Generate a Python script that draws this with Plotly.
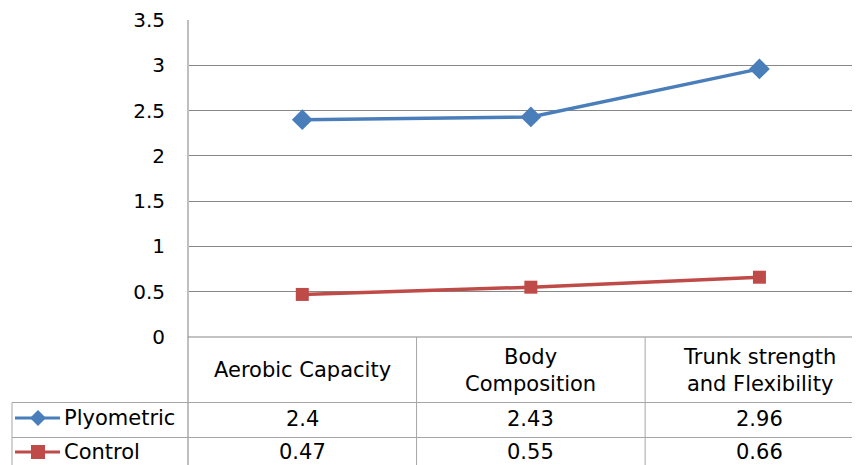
import plotly.graph_objects as go

categories = ["Aerobic Capacity", "Body Composition", "Trunk strength and Flexibility"]
header_labels = ["Aerobic Capacity", "Body<br>Composition", "Trunk strength<br>and Flexibility"]
plyometric = [2.4, 2.43, 2.96]
control = [0.47, 0.55, 0.66]
series_names = ["Plyometric", "Control"]
y_ticks = [0, 0.5, 1, 1.5, 2, 2.5, 3, 3.5]
y_tick_labels = ["0", "0.5", "1", "1.5", "2", "2.5", "3", "3.5"]

# the page body adds an 8px margin, so the figure is shrunk and offset by it
OFF = 8
W, H = 860 - OFF, 465 - OFF
PLOT_L, PLOT_T, PLOT_B = 188, 20, 337  # target positions in the screenshot
ML, MR, MT = PLOT_L - OFF, 0, PLOT_T - OFF
MB = H - (PLOT_B - OFF)
PH = H - MT - MB
PW = W - ML - MR

def py(y):
    # screenshot pixel row -> paper y
    return (PLOT_B - y) / PH

def px(x):
    # screenshot pixel column -> paper x
    return (x - PLOT_L) / PW

BOTTOM = 465

BLUE = "#4A7EBB"
RED = "#BE4B48"
FONT = "DejaVu Sans"
GRID = "#878787"
TABLE = "#A6A6A6"

fig = go.Figure()
fig.add_trace(go.Scatter(
    x=categories, y=plyometric, name=series_names[0], mode="lines+markers",
    line=dict(color=BLUE, width=3.5), marker=dict(symbol="diamond", size=16, color=BLUE),
    showlegend=False,
))
fig.add_trace(go.Scatter(
    x=categories, y=control, name=series_names[1], mode="lines+markers",
    line=dict(color=RED, width=3.5), marker=dict(symbol="square", size=13, color=RED),
    showlegend=False,
))

shapes = []
# left axis line extending through table
shapes.append(dict(type="line", xref="paper", yref="paper", x0=0, x1=0, y0=1, y1=py(BOTTOM),
                   line=dict(color="#BFBFBF", width=2)))
# x axis line
shapes.append(dict(type="line", xref="paper", yref="paper", x0=0, x1=1, y0=0, y1=0,
                   line=dict(color=GRID, width=1)))
# table horizontal lines
for yy in (402.5, 437.5):
    shapes.append(dict(type="line", xref="paper", yref="paper", x0=px(12), x1=1, y0=py(yy), y1=py(yy),
                       line=dict(color=TABLE, width=1)))
# table left border
shapes.append(dict(type="line", xref="paper", yref="paper", x0=px(12), x1=px(12), y0=py(402.5), y1=py(BOTTOM),
                   line=dict(color=TABLE, width=1)))
# column separators
for xx in (0.5, 1.5):
    shapes.append(dict(type="line", xref="x", yref="paper", x0=xx, x1=xx, y0=0, y1=py(BOTTOM),
                       line=dict(color=TABLE, width=1)))

# legend keys inside the table rows (pixel layout helpers)
def key_line(yc, color):
    return dict(type="line", xref="paper", yref="paper", x0=px(15), x1=px(60), y0=py(yc), y1=py(yc),
                line=dict(color=color, width=3))

shapes.append(key_line(418, BLUE))
shapes.append(key_line(452, RED))
cx, cy, r = 38, 418, 8
diamond = (f"M {px(cx - r)} {py(cy)} L {px(cx)} {py(cy - r)} L {px(cx + r)} {py(cy)} "
           f"L {px(cx)} {py(cy + r)} Z")
shapes.append(dict(type="path", xref="paper", yref="paper", path=diamond,
                   fillcolor=BLUE, line=dict(color=BLUE, width=0)))
sx, sy, s = 38, 452, 7
shapes.append(dict(type="rect", xref="paper", yref="paper", x0=px(sx - s), x1=px(sx + s),
                   y0=py(sy + s), y1=py(sy - s), fillcolor=RED, line=dict(color=RED, width=0)))

annotations = []
txt_font = dict(family=FONT, size=21, color="#000")
for i, (cat, lab) in enumerate(zip(categories, header_labels)):
    annotations.append(dict(x=i, xref="x", y=py(370), yref="paper", text=lab, showarrow=False,
                            font=txt_font, xanchor="center", yanchor="middle"))
    annotations.append(dict(x=i, xref="x", y=py(419), yref="paper", text=f"{plyometric[i]:g}", showarrow=False,
                            font=txt_font, xanchor="center", yanchor="middle"))
    annotations.append(dict(x=i, xref="x", y=py(452), yref="paper", text=f"{control[i]:g}", showarrow=False,
                            font=txt_font, xanchor="center", yanchor="middle"))

for name, yc in zip(series_names, (418, 452)):
    annotations.append(dict(x=px(62), xref="paper", y=py(yc), yref="paper", text=name, showarrow=False,
                            font=txt_font, xanchor="left", yanchor="middle"))

fig.update_layout(
    width=W, height=H,
    margin=dict(l=ML, r=MR, t=MT, b=MB, pad=0),
    paper_bgcolor="white", plot_bgcolor="white",
    font=dict(family=FONT, size=20, color="#000"),
    showlegend=False,
    xaxis=dict(type="category", range=[-0.5, 2.44], showticklabels=False, showgrid=False,
               zeroline=False, showline=False, ticks=""),
    yaxis=dict(range=[0, 3.5], tickvals=y_ticks, ticktext=y_tick_labels, showgrid=True,
               gridcolor=GRID, gridwidth=1, zeroline=False, showline=False, ticks="",
               ticklabelstandoff=22, tickfont=dict(family=FONT, size=20, color="#000")),
    shapes=shapes,
    annotations=annotations,
)

fig.write_html("out.html")
